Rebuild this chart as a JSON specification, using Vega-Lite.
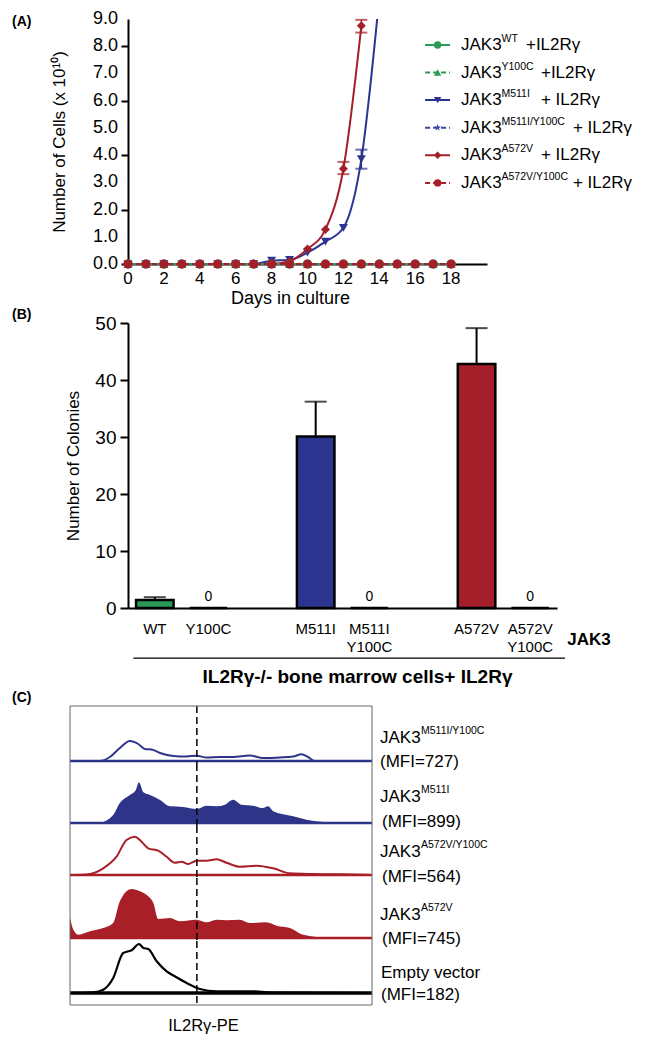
{
"$schema": "https://vega.github.io/schema/vega-lite/v6.json",
"padding": {"left": 12, "top": 10, "right": 5, "bottom": 5},
"config": {
  "font": "Liberation Sans",
  "view": {"stroke": null},
  "axis": {"grid": false, "domainColor": "black", "tickColor": "black", "labelColor": "black", "titleColor": "black", "titleFontWeight": "normal", "labelOverlap": false, "labelFlush": false}
},
"datasets": {
  "cells": [
    {"series":"WT","day":0,"cells":0},{"series":"WT","day":1,"cells":0},{"series":"WT","day":2,"cells":0},{"series":"WT","day":3,"cells":0},{"series":"WT","day":4,"cells":0},{"series":"WT","day":5,"cells":0},{"series":"WT","day":6,"cells":0},{"series":"WT","day":7,"cells":0},{"series":"WT","day":8,"cells":0},{"series":"WT","day":9,"cells":0},{"series":"WT","day":10,"cells":0},{"series":"WT","day":11,"cells":0},{"series":"WT","day":12,"cells":0},{"series":"WT","day":13,"cells":0},{"series":"WT","day":14,"cells":0},{"series":"WT","day":15,"cells":0},{"series":"WT","day":16,"cells":0},{"series":"WT","day":17,"cells":0},{"series":"WT","day":18,"cells":0},
    {"series":"Y100C","day":0,"cells":0},{"series":"Y100C","day":1,"cells":0},{"series":"Y100C","day":2,"cells":0},{"series":"Y100C","day":3,"cells":0},{"series":"Y100C","day":4,"cells":0},{"series":"Y100C","day":5,"cells":0},{"series":"Y100C","day":6,"cells":0},{"series":"Y100C","day":7,"cells":0},{"series":"Y100C","day":8,"cells":0},{"series":"Y100C","day":9,"cells":0},{"series":"Y100C","day":10,"cells":0},{"series":"Y100C","day":11,"cells":0},{"series":"Y100C","day":12,"cells":0},{"series":"Y100C","day":13,"cells":0},{"series":"Y100C","day":14,"cells":0},{"series":"Y100C","day":15,"cells":0},{"series":"Y100C","day":16,"cells":0},{"series":"Y100C","day":17,"cells":0},{"series":"Y100C","day":18,"cells":0},
    {"series":"M511I","day":0,"cells":0},{"series":"M511I","day":1,"cells":0},{"series":"M511I","day":2,"cells":0},{"series":"M511I","day":3,"cells":0},{"series":"M511I","day":4,"cells":0},{"series":"M511I","day":5,"cells":0},{"series":"M511I","day":6,"cells":0},{"series":"M511I","day":7,"cells":0},{"series":"M511I","day":8,"cells":0.12},{"series":"M511I","day":9,"cells":0.15},{"series":"M511I","day":10,"cells":0.42},{"series":"M511I","day":11,"cells":0.82},{"series":"M511I","day":12,"cells":1.33},{"series":"M511I","day":13,"cells":3.85},{"series":"M511I","day":14,"cells":9.8},
    {"series":"M511I/Y100C","day":0,"cells":0},{"series":"M511I/Y100C","day":1,"cells":0},{"series":"M511I/Y100C","day":2,"cells":0},{"series":"M511I/Y100C","day":3,"cells":0},{"series":"M511I/Y100C","day":4,"cells":0},{"series":"M511I/Y100C","day":5,"cells":0},{"series":"M511I/Y100C","day":6,"cells":0},{"series":"M511I/Y100C","day":7,"cells":0},{"series":"M511I/Y100C","day":8,"cells":0},{"series":"M511I/Y100C","day":9,"cells":0},{"series":"M511I/Y100C","day":10,"cells":0},{"series":"M511I/Y100C","day":11,"cells":0},{"series":"M511I/Y100C","day":12,"cells":0},{"series":"M511I/Y100C","day":13,"cells":0},{"series":"M511I/Y100C","day":14,"cells":0},{"series":"M511I/Y100C","day":15,"cells":0},{"series":"M511I/Y100C","day":16,"cells":0},{"series":"M511I/Y100C","day":17,"cells":0},{"series":"M511I/Y100C","day":18,"cells":0},
    {"series":"A572V","day":0,"cells":0},{"series":"A572V","day":1,"cells":0},{"series":"A572V","day":2,"cells":0},{"series":"A572V","day":3,"cells":0},{"series":"A572V","day":4,"cells":0},{"series":"A572V","day":5,"cells":0},{"series":"A572V","day":6,"cells":0},{"series":"A572V","day":7,"cells":0},{"series":"A572V","day":8,"cells":0},{"series":"A572V","day":9,"cells":0.1},{"series":"A572V","day":10,"cells":0.55},{"series":"A572V","day":11,"cells":1.27},{"series":"A572V","day":12,"cells":3.5},{"series":"A572V","day":13,"cells":8.75},
    {"series":"A572V/Y100C","day":0,"cells":0},{"series":"A572V/Y100C","day":1,"cells":0},{"series":"A572V/Y100C","day":2,"cells":0},{"series":"A572V/Y100C","day":3,"cells":0},{"series":"A572V/Y100C","day":4,"cells":0},{"series":"A572V/Y100C","day":5,"cells":0},{"series":"A572V/Y100C","day":6,"cells":0},{"series":"A572V/Y100C","day":7,"cells":0},{"series":"A572V/Y100C","day":8,"cells":0},{"series":"A572V/Y100C","day":9,"cells":0},{"series":"A572V/Y100C","day":10,"cells":0},{"series":"A572V/Y100C","day":11,"cells":0},{"series":"A572V/Y100C","day":12,"cells":0},{"series":"A572V/Y100C","day":13,"cells":0},{"series":"A572V/Y100C","day":14,"cells":0},{"series":"A572V/Y100C","day":15,"cells":0},{"series":"A572V/Y100C","day":16,"cells":0},{"series":"A572V/Y100C","day":17,"cells":0},{"series":"A572V/Y100C","day":18,"cells":0}
  ],
  "yTicksA": [{"v":0},{"v":1},{"v":2},{"v":3},{"v":4},{"v":5},{"v":6},{"v":7},{"v":8},{"v":9}],
  "xTicksA": [{"d":0},{"d":2},{"d":4},{"d":6},{"d":8},{"d":10},{"d":12},{"d":14},{"d":16},{"d":18}],
  "errA": [
    {"series":"M511I","day":13,"lo":3.5,"hi":4.2},
    {"series":"A572V","day":12,"lo":3.3,"hi":3.75},
    {"series":"A572V","day":13,"lo":8.5,"hi":8.97}
  ],
  "legendA": [
    {"series":"WT","sup":"WT","tail":"+IL2Rγ"},
    {"series":"Y100C","sup":"Y100C","tail":"+IL2Rγ"},
    {"series":"M511I","sup":"M511I","tail":"+ IL2Rγ"},
    {"series":"M511I/Y100C","sup":"M511I/Y100C","tail":"+ IL2Rγ"},
    {"series":"A572V","sup":"A572V","tail":"+ IL2Rγ"},
    {"series":"A572V/Y100C","sup":"A572V/Y100C","tail":"+ IL2Rγ"}
  ],
  "colonies": [
    {"genotype":"WT","colonies":1.4,"upper":1.9},
    {"genotype":"Y100C","colonies":0,"upper":null},
    {"genotype":"M511I","colonies":30.1,"upper":36.2},
    {"genotype":"M511I/Y100C","colonies":0,"upper":null},
    {"genotype":"A572V","colonies":42.8,"upper":49.1},
    {"genotype":"A572V/Y100C","colonies":0,"upper":null}
  ],
  "flowLabels": [
    {"series":"M511I/Y100C","name":"JAK3","sup":"M511I/Y100C","mfi":"(MFI=727)"},
    {"series":"M511I","name":"JAK3","sup":"M511I","mfi":"(MFI=899)"},
    {"series":"A572V/Y100C","name":"JAK3","sup":"A572V/Y100C","mfi":"(MFI=564)"},
    {"series":"A572V","name":"JAK3","sup":"A572V","mfi":"(MFI=745)"},
    {"series":"Empty","name":"Empty vector","sup":"","mfi":"(MFI=182)"}
  ],
  "flow": [
    {"series":"M511I/Y100C","x":0,"count":0},{"series":"M511I/Y100C","x":9.9,"count":0},{"series":"M511I/Y100C","x":13.2,"count":4},{"series":"M511I/Y100C","x":16.5,"count":13},{"series":"M511I/Y100C","x":19.8,"count":20},{"series":"M511I/Y100C","x":22.6,"count":17},{"series":"M511I/Y100C","x":24.8,"count":12},{"series":"M511I/Y100C","x":27.0,"count":11.5},{"series":"M511I/Y100C","x":29.8,"count":8},{"series":"M511I/Y100C","x":34.2,"count":5},{"series":"M511I/Y100C","x":38.6,"count":4.5},{"series":"M511I/Y100C","x":41.9,"count":5.3},{"series":"M511I/Y100C","x":45.2,"count":3.5},{"series":"M511I/Y100C","x":49.6,"count":4},{"series":"M511I/Y100C","x":54.0,"count":4},{"series":"M511I/Y100C","x":59.5,"count":5.5},{"series":"M511I/Y100C","x":63.9,"count":3},{"series":"M511I/Y100C","x":69.5,"count":3.5},{"series":"M511I/Y100C","x":73.9,"count":4.5},{"series":"M511I/Y100C","x":76.6,"count":6.7},{"series":"M511I/Y100C","x":78.8,"count":4},{"series":"M511I/Y100C","x":81.0,"count":0},{"series":"M511I/Y100C","x":100,"count":0},
    {"series":"M511I","x":0,"count":0},{"series":"M511I","x":9.9,"count":0.5},{"series":"M511I","x":14.3,"count":8},{"series":"M511I","x":16.5,"count":20},{"series":"M511I","x":19.8,"count":28},{"series":"M511I","x":21.8,"count":33},{"series":"M511I","x":22.8,"count":40.7},{"series":"M511I","x":24.3,"count":30.7},{"series":"M511I","x":26.5,"count":28},{"series":"M511I","x":29.8,"count":23},{"series":"M511I","x":33.1,"count":16.7},{"series":"M511I","x":37.5,"count":16},{"series":"M511I","x":41.9,"count":14},{"series":"M511I","x":45.2,"count":17.3},{"series":"M511I","x":48.5,"count":16.7},{"series":"M511I","x":51.3,"count":18.3},{"series":"M511I","x":54.0,"count":23.3},{"series":"M511I","x":56.8,"count":18.3},{"series":"M511I","x":60.6,"count":17.3},{"series":"M511I","x":63.9,"count":15},{"series":"M511I","x":65.6,"count":16.7},{"series":"M511I","x":67.3,"count":11.7},{"series":"M511I","x":73.9,"count":6.7},{"series":"M511I","x":78.3,"count":3.3},{"series":"M511I","x":86.0,"count":0.7},{"series":"M511I","x":100,"count":0},
    {"series":"A572V/Y100C","x":0,"count":0},{"series":"A572V/Y100C","x":5.5,"count":0.5},{"series":"A572V/Y100C","x":11.0,"count":6.7},{"series":"A572V/Y100C","x":15.4,"count":18.3},{"series":"A572V/Y100C","x":18.7,"count":35},{"series":"A572V/Y100C","x":21.5,"count":38.3},{"series":"A572V/Y100C","x":23.7,"count":33.3},{"series":"A572V/Y100C","x":25.9,"count":26.7},{"series":"A572V/Y100C","x":29.2,"count":24.3},{"series":"A572V/Y100C","x":32.0,"count":18.3},{"series":"A572V/Y100C","x":34.7,"count":12.3},{"series":"A572V/Y100C","x":36.9,"count":13.3},{"series":"A572V/Y100C","x":39.1,"count":11},{"series":"A572V/Y100C","x":41.9,"count":14.3},{"series":"A572V/Y100C","x":45.2,"count":14.3},{"series":"A572V/Y100C","x":48.5,"count":15.7},{"series":"A572V/Y100C","x":51.8,"count":12.3},{"series":"A572V/Y100C","x":56.2,"count":8.3},{"series":"A572V/Y100C","x":61.7,"count":9.3},{"series":"A572V/Y100C","x":67.3,"count":6.7},{"series":"A572V/Y100C","x":72.8,"count":1.7},{"series":"A572V/Y100C","x":80.5,"count":1},{"series":"A572V/Y100C","x":89.3,"count":0.7},{"series":"A572V/Y100C","x":100,"count":0},
    {"series":"A572V","x":0,"count":20},{"series":"A572V","x":1.1,"count":8.3},{"series":"A572V","x":2.8,"count":3.3},{"series":"A572V","x":6.6,"count":6.7},{"series":"A572V","x":11.0,"count":10},{"series":"A572V","x":14.3,"count":15},{"series":"A572V","x":16.5,"count":36.7},{"series":"A572V","x":20.4,"count":49},{"series":"A572V","x":23.2,"count":46.7},{"series":"A572V","x":25.9,"count":41.7},{"series":"A572V","x":27.6,"count":35},{"series":"A572V","x":29.2,"count":19},{"series":"A572V","x":33.1,"count":20},{"series":"A572V","x":36.4,"count":16.7},{"series":"A572V","x":41.9,"count":18.3},{"series":"A572V","x":45.2,"count":15.7},{"series":"A572V","x":48.5,"count":18.3},{"series":"A572V","x":51.8,"count":17.7},{"series":"A572V","x":56.2,"count":18.3},{"series":"A572V","x":59.5,"count":15},{"series":"A572V","x":65.0,"count":15.7},{"series":"A572V","x":68.4,"count":12.3},{"series":"A572V","x":72.8,"count":10},{"series":"A572V","x":77.2,"count":3.3},{"series":"A572V","x":87.1,"count":0},{"series":"A572V","x":100,"count":0},
    {"series":"Empty","x":0,"count":0},{"series":"Empty","x":7.7,"count":0.7},{"series":"Empty","x":11.0,"count":3.3},{"series":"Empty","x":14.3,"count":15},{"series":"Empty","x":17.6,"count":40},{"series":"Empty","x":19.3,"count":41.7},{"series":"Empty","x":20.4,"count":42.7},{"series":"Empty","x":22.8,"count":49},{"series":"Empty","x":24.3,"count":45},{"series":"Empty","x":25.9,"count":44},{"series":"Empty","x":28.7,"count":31.7},{"series":"Empty","x":32.0,"count":21.7},{"series":"Empty","x":34.7,"count":16.7},{"series":"Empty","x":38.6,"count":10},{"series":"Empty","x":43.0,"count":4},{"series":"Empty","x":48.5,"count":1.7},{"series":"Empty","x":60.6,"count":1.7},{"series":"Empty","x":68.4,"count":0.3},{"series":"Empty","x":100,"count":0}
  ]
},
"spacing": 5,
"vconcat": [
{
  "spacing": 1,
  "vconcat": [
  {
    "width": 359, "height": 245,
    "resolve": {"scale": {"y": "independent"}},
    "layer": [
    {
      "layer": [
      {
        "data": {"name": "cells"},
        "transform": [{"filter": "datum.series == 'M511I' || datum.series == 'A572V'"}],
        "mark": {"type": "line", "interpolate": "monotone", "clip": true, "strokeWidth": 2},
        "encoding": {
          "x": {"field": "day", "type": "quantitative", "scale": {"domain": [0, 20], "nice": false},
                "axis": {"values": [0,2,4,6,8,10,12,14,16,18], "labels": false, "ticks": false, "domainWidth": 2, "title": "Days in culture", "titleFontSize": 18, "titlePadding": 25, "titleX": 162}},
          "y": {"field": "cells", "type": "quantitative", "scale": {"domain": [0, 9], "nice": false},
                "axis": {"values": [0,1,2,3,4,5,6,7,8,9], "labels": false, "tickSize": 7, "tickWidth": 2, "domainWidth": 2, "title": "Number of Cells (x 10¹⁰)", "titleFontSize": 17, "titlePadding": 52}},
          "color": {"field": "series", "type": "nominal", "legend": null,
                    "scale": {"domain": ["WT","Y100C","M511I","M511I/Y100C","A572V","A572V/Y100C"], "range": ["#2a9a56","#2a9a56","#2b3590","#3b47a0","#a51f2b","#a51f2b"]}}
        }
      },
      {
        "data": {"name": "yTicksA"},
        "mark": {"type": "text", "align": "right", "baseline": "middle", "fontSize": 18, "dx": -10},
        "encoding": {"x": {"datum": 0}, "y": {"field": "v", "type": "quantitative"}, "text": {"field": "v", "type": "quantitative", "format": ".1f"}}
      },
      {
        "data": {"name": "xTicksA"},
        "mark": {"type": "text", "align": "center", "baseline": "middle", "fontSize": 17, "dy": 15},
        "encoding": {"x": {"field": "d", "type": "quantitative"}, "y": {"datum": 0}, "text": {"field": "d", "type": "quantitative"}}
      },
      {
        "data": {"name": "errA"},
        "mark": {"type": "rule", "strokeWidth": 1.5},
        "encoding": {
          "x": {"field": "day", "type": "quantitative"},
          "y": {"field": "lo", "type": "quantitative"},
          "y2": {"field": "hi"},
          "color": {"field": "series", "type": "nominal", "legend": null}
        }
      },
      {
        "data": {"name": "errA"},
        "mark": {"type": "tick", "orient": "horizontal", "size": 12, "thickness": 2},
        "encoding": {
          "x": {"field": "day", "type": "quantitative"},
          "y": {"field": "lo", "type": "quantitative"},
          "color": {"field": "series", "type": "nominal", "legend": null}
        }
      },
      {
        "data": {"name": "errA"},
        "mark": {"type": "tick", "orient": "horizontal", "size": 12, "thickness": 2},
        "encoding": {
          "x": {"field": "day", "type": "quantitative"},
          "y": {"field": "hi", "type": "quantitative"},
          "color": {"field": "series", "type": "nominal", "legend": null}
        }
      },
      {
        "data": {"name": "cells"},
        "transform": [{"filter": "(datum.series == 'M511I' || datum.series == 'A572V') && datum.cells <= 9"}],
        "mark": {"type": "point", "filled": true, "size": 80, "opacity": 1},
        "encoding": {
          "x": {"field": "day", "type": "quantitative"},
          "y": {"field": "cells", "type": "quantitative"},
          "color": {"field": "series", "type": "nominal", "legend": null},
          "shape": {"field": "series", "type": "nominal", "legend": null,
                    "scale": {"domain": ["WT","Y100C","M511I","M511I/Y100C","A572V","A572V/Y100C"], "range": ["circle","triangle-up","triangle-down","M0,-1L0.2245,-0.309L0.951,-0.309L0.363,0.118L0.588,0.809L0,0.382L-0.588,0.809L-0.363,0.118L-0.951,-0.309L-0.2245,-0.309Z","diamond","circle"]}}
        }
      },
      {
        "data": {"name": "cells"},
        "transform": [{"filter": "datum.series != 'M511I' && datum.series != 'A572V'"}],
        "mark": {"type": "line", "strokeWidth": 2},
        "encoding": {
          "x": {"field": "day", "type": "quantitative"},
          "y": {"field": "cells", "type": "quantitative"},
          "color": {"field": "series", "type": "nominal", "legend": null},
          "strokeDash": {"field": "series", "type": "nominal", "legend": null,
                         "scale": {"domain": ["WT","Y100C","M511I","M511I/Y100C","A572V","A572V/Y100C"], "range": [[1,0],[5,3],[1,0],[5,3],[1,0],[5,3]]}}
        }
      },
      {
        "data": {"name": "cells"},
        "transform": [{"filter": "datum.series != 'M511I' && datum.series != 'A572V'"}],
        "mark": {"type": "point", "filled": true, "size": 85, "opacity": 1},
        "encoding": {
          "x": {"field": "day", "type": "quantitative"},
          "y": {"field": "cells", "type": "quantitative"},
          "color": {"field": "series", "type": "nominal", "legend": null},
          "shape": {"field": "series", "type": "nominal", "legend": null}
        }
      },
      {
        "data": {"values": [{}]},
        "mark": {"type": "text", "text": "(A)", "align": "left", "baseline": "middle", "fontSize": 14, "fontWeight": "bold"},
        "encoding": {"x": {"datum": -6.46}, "y": {"datum": 8.9}}
      }
      ]
    },
    {
      "layer": [
      {
        "data": {"name": "legendA"},
        "mark": {"type": "rule", "strokeWidth": 2},
        "encoding": {
          "x": {"datum": 16.55}, "x2": {"datum": 17.94},
          "y": {"field": "series", "type": "nominal", "axis": null, "scale": {"type": "point", "domain": ["WT","Y100C","M511I","M511I/Y100C","A572V","A572V/Y100C","_p1","_p2"], "padding": 0.94}},
          "color": {"field": "series", "type": "nominal", "legend": null},
          "strokeDash": {"field": "series", "type": "nominal", "legend": null}
        }
      },
      {
        "data": {"name": "legendA"},
        "mark": {"type": "point", "filled": true, "size": 55, "opacity": 1},
        "encoding": {
          "x": {"datum": 17.25},
          "y": {"field": "series", "type": "nominal", "axis": null},
          "color": {"field": "series", "type": "nominal", "legend": null},
          "shape": {"field": "series", "type": "nominal", "legend": null}
        }
      },
      {
        "data": {"name": "legendA"},
        "mark": {"type": "text", "text": "JAK3", "align": "left", "baseline": "middle", "fontSize": 17},
        "encoding": {"x": {"datum": 18.55}, "y": {"field": "series", "type": "nominal", "axis": null}}
      },
      {
        "data": {"name": "legendA"},
        "mark": {"type": "text", "align": "left", "baseline": "middle", "fontSize": 10.5, "dx": 40.5, "dy": -6},
        "encoding": {"x": {"datum": 18.55}, "y": {"field": "series", "type": "nominal", "axis": null}, "text": {"field": "sup"}}
      },
      {
        "data": {"name": "legendA"},
        "transform": [{"filter": "length(datum.sup) == 2"}],
        "mark": {"type": "text", "align": "left", "baseline": "middle", "fontSize": 17, "dx": 65},
        "encoding": {"x": {"datum": 18.55}, "y": {"field": "series", "type": "nominal", "axis": null}, "text": {"field": "tail"}}
      },
      {
        "data": {"name": "legendA"},
        "transform": [{"filter": "length(datum.sup) == 5"}],
        "mark": {"type": "text", "align": "left", "baseline": "middle", "fontSize": 17, "dx": 80},
        "encoding": {"x": {"datum": 18.55}, "y": {"field": "series", "type": "nominal", "axis": null}, "text": {"field": "tail"}}
      },
      {
        "data": {"name": "legendA"},
        "transform": [{"filter": "length(datum.sup) == 11"}],
        "mark": {"type": "text", "align": "left", "baseline": "middle", "fontSize": 17, "dx": 112},
        "encoding": {"x": {"datum": 18.55}, "y": {"field": "series", "type": "nominal", "axis": null}, "text": {"field": "tail"}}
      }
      ]
    }
    ]
  },
  {
    "width": 429, "height": 285,
    "data": {"name": "colonies"},
    "layer": [
    {
      "mark": {"type": "bar", "stroke": "black", "strokeWidth": 2.5, "width": {"band": 0.7}},
      "encoding": {
        "x": {"field": "genotype", "type": "nominal",
              "scale": {"domain": ["WT","Y100C","g1","M511I","M511I/Y100C","g2","A572V","A572V/Y100C"], "paddingInner": 0, "paddingOuter": 0},
              "axis": {"labelExpr": "(datum.value == 'g1' || datum.value == 'g2') ? '' : split(datum.value, '/')", "labelAngle": 0, "labelFontSize": 15, "labelLineHeight": 18, "labelPadding": 13, "ticks": false, "domainWidth": 2,
                       "title": "IL2Rγ-/- bone marrow cells+ IL2Rγ", "titleFontSize": 19, "titleFontWeight": "bold", "titleX": 229, "titleY": 68, "titleBaseline": "middle"}},
        "y": {"field": "colonies", "type": "quantitative", "scale": {"domain": [0, 50], "nice": false},
              "axis": {"values": [0,10,20,30,40,50], "labelFontSize": 19, "tickSize": 8, "tickWidth": 2, "domainWidth": 2, "labelPadding": 4, "title": "Number of Colonies", "titleFontSize": 17, "titlePadding": 12}},
        "color": {"field": "genotype", "type": "nominal", "legend": null,
                  "scale": {"domain": ["WT","Y100C","M511I","M511I/Y100C","A572V","A572V/Y100C"], "range": ["#236b38","#236b38","#2b2f78","#2b2f78","#a01c22","#a01c22"]}}
      }
    },
    {
      "transform": [{"filter": "isValid(datum.upper)"}],
      "mark": {"type": "rule", "color": "black", "strokeWidth": 2},
      "encoding": {
        "x": {"field": "genotype", "type": "nominal"},
        "y": {"field": "colonies", "type": "quantitative"},
        "y2": {"field": "upper"}
      }
    },
    {
      "transform": [{"filter": "isValid(datum.upper)"}],
      "mark": {"type": "tick", "color": "black", "orient": "horizontal", "size": 22, "thickness": 2},
      "encoding": {
        "x": {"field": "genotype", "type": "nominal"},
        "y": {"field": "upper", "type": "quantitative"}
      }
    },
    {
      "transform": [{"filter": "datum.colonies == 0"}],
      "mark": {"type": "text", "fontSize": 14, "dy": -11, "baseline": "middle"},
      "encoding": {
        "x": {"field": "genotype", "type": "nominal"},
        "y": {"field": "colonies", "type": "quantitative"},
        "text": {"field": "colonies"}
      }
    },
    {
      "data": {"values": [{}]},
      "mark": {"type": "text", "text": "(B)", "align": "left", "baseline": "middle", "fontSize": 14, "fontWeight": "bold", "dx": -116, "dy": -8},
      "encoding": {"x": {"datum": "WT", "bandPosition": 0}, "y": {"datum": 50}}
    },
    {
      "data": {"values": [{}]},
      "mark": {"type": "text", "text": "JAK3", "align": "left", "baseline": "middle", "fontSize": 17, "fontWeight": "bold", "dx": 37},
      "encoding": {"x": {"datum": "A572V/Y100C"}, "y": {"datum": -5.6}}
    },
    {
      "data": {"values": [{}]},
      "mark": {"type": "rule", "color": "black", "strokeWidth": 1.2},
      "encoding": {"x": {"datum": "WT", "bandPosition": 0.1}, "x2": {"datum": "A572V/Y100C", "bandPosition": 1.15}, "y": {"datum": -8.8}}
    }
    ]
  }
  ]
},
{
  "spacing": 0,
  "bounds": "flush",
  "vconcat": [
  {
    "width": 302, "height": 58,
    "data": {"name": "flowLabels"},
    "transform": [{"filter": "datum.series == 'M511I/Y100C'"}],
    "layer": [
      {"data": {"name": "flow"}, "transform": [{"filter": "datum.series == 'M511I/Y100C'"}],
       "mark": {"type": "line", "interpolate": "monotone", "color": "#2e3589", "strokeWidth": 2},
       "encoding": {"x": {"field": "x", "type": "quantitative", "scale": {"domain": [19.2, 119.2], "nice": false, "zero": false}, "axis": null},
                    "y": {"field": "count", "type": "quantitative", "scale": {"domain": [-3, 55], "nice": false}, "axis": null}}},
      {"mark": {"type": "rule", "color": "#2e3589", "strokeWidth": 2.5}, "encoding": {"x": {"datum": 0}, "x2": {"datum": 100}, "y": {"datum": 0}}},
      {"mark": {"type": "rule", "color": "black", "strokeWidth": 1.5, "strokeDash": [7, 4]}, "encoding": {"x": {"datum": 42}}},
      {"mark": {"type": "rule", "color": "#666666", "strokeWidth": 1}, "encoding": {"x": {"datum": 0}}},
      {"mark": {"type": "rule", "color": "#666666", "strokeWidth": 1}, "encoding": {"x": {"datum": 100}}},
      {"mark": {"type": "rule", "color": "#666666", "strokeWidth": 1}, "encoding": {"x": {"datum": 0}, "x2": {"datum": 100}, "y": {"datum": 55}}},
      {"mark": {"type": "text", "align": "left", "baseline": "middle", "fontSize": 17, "dx": 8}, "encoding": {"x": {"datum": 100}, "y": {"datum": 23}, "text": {"field": "name"}}},
      {"mark": {"type": "text", "align": "left", "baseline": "middle", "fontSize": 10.5, "dx": 49, "dy": -7}, "encoding": {"x": {"datum": 100}, "y": {"datum": 23}, "text": {"field": "sup"}}},
      {"mark": {"type": "text", "align": "left", "baseline": "middle", "fontSize": 17, "dx": 8}, "encoding": {"x": {"datum": 100}, "y": {"datum": -1}, "text": {"field": "mfi"}}},
      {"mark": {"type": "text", "text": "(C)", "align": "left", "baseline": "middle", "fontSize": 14, "fontWeight": "bold", "dy": -8}, "encoding": {"x": {"datum": -19.2}, "y": {"datum": 55}}}
    ]
  },
  {
    "width": 302, "height": 62,
    "data": {"name": "flowLabels"},
    "transform": [{"filter": "datum.series == 'M511I'"}],
    "layer": [
      {"data": {"name": "flow"}, "transform": [{"filter": "datum.series == 'M511I'"}],
       "mark": {"type": "area", "interpolate": "monotone", "color": "#2e3589"},
       "encoding": {"x": {"field": "x", "type": "quantitative", "scale": {"domain": [19.2, 119.2], "nice": false, "zero": false}, "axis": null},
                    "y": {"field": "count", "type": "quantitative", "scale": {"domain": [-3, 59], "nice": false}, "axis": null},
                    "y2": {"datum": 0}}},
      {"mark": {"type": "rule", "color": "#2e3589", "strokeWidth": 2.5}, "encoding": {"x": {"datum": 0}, "x2": {"datum": 100}, "y": {"datum": 0}}},
      {"mark": {"type": "rule", "color": "black", "strokeWidth": 1.5, "strokeDash": [7, 4]}, "encoding": {"x": {"datum": 42}}},
      {"mark": {"type": "rule", "color": "#666666", "strokeWidth": 1}, "encoding": {"x": {"datum": 0}}},
      {"mark": {"type": "rule", "color": "#666666", "strokeWidth": 1}, "encoding": {"x": {"datum": 100}}},
      {"mark": {"type": "text", "align": "left", "baseline": "middle", "fontSize": 17, "dx": 8}, "encoding": {"x": {"datum": 100}, "y": {"datum": 26}, "text": {"field": "name"}}},
      {"mark": {"type": "text", "align": "left", "baseline": "middle", "fontSize": 10.5, "dx": 49, "dy": -7}, "encoding": {"x": {"datum": 100}, "y": {"datum": 26}, "text": {"field": "sup"}}},
      {"mark": {"type": "text", "align": "left", "baseline": "middle", "fontSize": 17, "dx": 10}, "encoding": {"x": {"datum": 100}, "y": {"datum": 1}, "text": {"field": "mfi"}}}
    ]
  },
  {
    "width": 302, "height": 52,
    "data": {"name": "flowLabels"},
    "transform": [{"filter": "datum.series == 'A572V/Y100C'"}],
    "layer": [
      {"data": {"name": "flow"}, "transform": [{"filter": "datum.series == 'A572V/Y100C'"}],
       "mark": {"type": "line", "interpolate": "monotone", "color": "#a81f27", "strokeWidth": 2},
       "encoding": {"x": {"field": "x", "type": "quantitative", "scale": {"domain": [19.2, 119.2], "nice": false, "zero": false}, "axis": null},
                    "y": {"field": "count", "type": "quantitative", "scale": {"domain": [-3, 49], "nice": false}, "axis": null}}},
      {"mark": {"type": "rule", "color": "#a81f27", "strokeWidth": 2.5}, "encoding": {"x": {"datum": 0}, "x2": {"datum": 100}, "y": {"datum": 0}}},
      {"mark": {"type": "rule", "color": "black", "strokeWidth": 1.5, "strokeDash": [7, 4]}, "encoding": {"x": {"datum": 42}}},
      {"mark": {"type": "rule", "color": "#666666", "strokeWidth": 1}, "encoding": {"x": {"datum": 0}}},
      {"mark": {"type": "rule", "color": "#666666", "strokeWidth": 1}, "encoding": {"x": {"datum": 100}}},
      {"mark": {"type": "text", "align": "left", "baseline": "middle", "fontSize": 17, "dx": 8}, "encoding": {"x": {"datum": 100}, "y": {"datum": 23}, "text": {"field": "name"}}},
      {"mark": {"type": "text", "align": "left", "baseline": "middle", "fontSize": 10.5, "dx": 49, "dy": -7}, "encoding": {"x": {"datum": 100}, "y": {"datum": 23}, "text": {"field": "sup"}}},
      {"mark": {"type": "text", "align": "left", "baseline": "middle", "fontSize": 17, "dx": 10}, "encoding": {"x": {"datum": 100}, "y": {"datum": -2}, "text": {"field": "mfi"}}}
    ]
  },
  {
    "width": 302, "height": 63,
    "data": {"name": "flowLabels"},
    "transform": [{"filter": "datum.series == 'A572V'"}],
    "layer": [
      {"data": {"name": "flow"}, "transform": [{"filter": "datum.series == 'A572V'"}],
       "mark": {"type": "area", "interpolate": "monotone", "color": "#a81f27"},
       "encoding": {"x": {"field": "x", "type": "quantitative", "scale": {"domain": [19.2, 119.2], "nice": false, "zero": false}, "axis": null},
                    "y": {"field": "count", "type": "quantitative", "scale": {"domain": [-3, 60], "nice": false}, "axis": null},
                    "y2": {"datum": 0}}},
      {"mark": {"type": "rule", "color": "#a81f27", "strokeWidth": 2.5}, "encoding": {"x": {"datum": 0}, "x2": {"datum": 100}, "y": {"datum": 0}}},
      {"mark": {"type": "rule", "color": "black", "strokeWidth": 1.5, "strokeDash": [7, 4]}, "encoding": {"x": {"datum": 42}}},
      {"mark": {"type": "rule", "color": "#666666", "strokeWidth": 1}, "encoding": {"x": {"datum": 0}}},
      {"mark": {"type": "rule", "color": "#666666", "strokeWidth": 1}, "encoding": {"x": {"datum": 100}}},
      {"mark": {"type": "text", "align": "left", "baseline": "middle", "fontSize": 17, "dx": 8}, "encoding": {"x": {"datum": 100}, "y": {"datum": 23}, "text": {"field": "name"}}},
      {"mark": {"type": "text", "align": "left", "baseline": "middle", "fontSize": 10.5, "dx": 49, "dy": -7}, "encoding": {"x": {"datum": 100}, "y": {"datum": 23}, "text": {"field": "sup"}}},
      {"mark": {"type": "text", "align": "left", "baseline": "middle", "fontSize": 17, "dx": 10}, "encoding": {"x": {"datum": 100}, "y": {"datum": -1}, "text": {"field": "mfi"}}}
    ]
  },
  {
    "width": 302, "height": 64,
    "data": {"name": "flowLabels"},
    "transform": [{"filter": "datum.series == 'Empty'"}],
    "layer": [
      {"data": {"name": "flow"}, "transform": [{"filter": "datum.series == 'Empty'"}],
       "mark": {"type": "line", "interpolate": "monotone", "color": "black", "strokeWidth": 2.2},
       "encoding": {"x": {"field": "x", "type": "quantitative", "scale": {"domain": [19.2, 119.2], "nice": false, "zero": false},
                          "axis": {"title": "IL2Rγ-PE", "labels": false, "ticks": false, "domain": false, "titleFontSize": 16.5, "titleX": 75, "titleY": 20, "titleBaseline": "middle"}},
                    "y": {"field": "count", "type": "quantitative", "scale": {"domain": [-12, 52], "nice": false}, "axis": null}}},
      {"mark": {"type": "rule", "color": "black", "strokeWidth": 3.5}, "encoding": {"x": {"datum": 0}, "x2": {"datum": 100}, "y": {"datum": 0}}},
      {"mark": {"type": "rule", "color": "black", "strokeWidth": 1.5, "strokeDash": [7, 4]}, "encoding": {"x": {"datum": 42}}},
      {"mark": {"type": "rule", "color": "#666666", "strokeWidth": 1}, "encoding": {"x": {"datum": 0}}},
      {"mark": {"type": "rule", "color": "#666666", "strokeWidth": 1}, "encoding": {"x": {"datum": 100}}},
      {"mark": {"type": "rule", "color": "#666666", "strokeWidth": 1}, "encoding": {"x": {"datum": 0}, "x2": {"datum": 100}, "y": {"datum": -12}}},
      {"mark": {"type": "text", "align": "left", "baseline": "middle", "fontSize": 17, "dx": 9}, "encoding": {"x": {"datum": 100}, "y": {"datum": 20}, "text": {"field": "name"}}},
      {"mark": {"type": "text", "align": "left", "baseline": "middle", "fontSize": 17, "dx": 9}, "encoding": {"x": {"datum": 100}, "y": {"datum": -2}, "text": {"field": "mfi"}}}
    ]
  }
  ]
}
]
}
